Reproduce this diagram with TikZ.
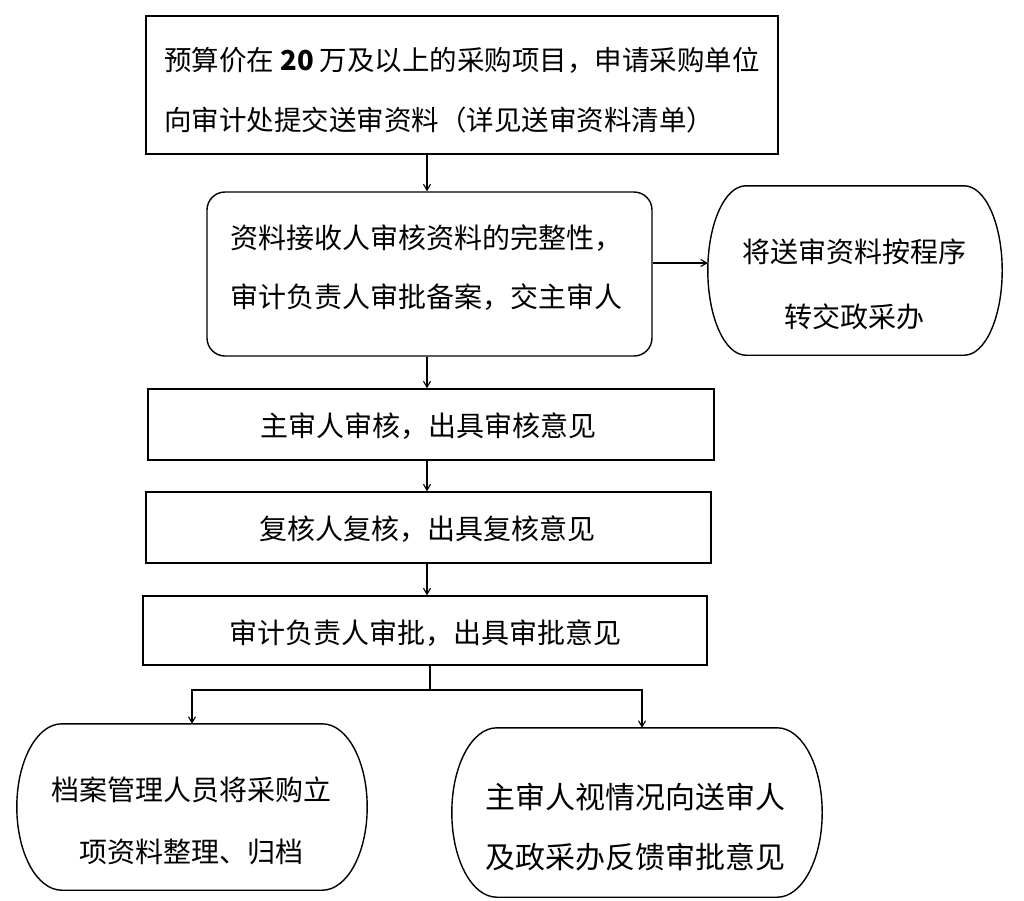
\documentclass[tikz,border=0pt]{standalone}
\usepackage{fontspec}
\setmainfont{Noto Sans CJK SC}
\usetikzlibrary{arrows.meta,calc}
\tikzset{
  box/.style={draw, line width=1.4pt, inner sep=0pt},
  rbox/.style={box, rounded corners=18pt},
  blank/.style={inner sep=0pt},
  txt/.style={inner sep=0pt, font=\fontsize{28}{60}\selectfont},
  arr/.style={line width=1.1pt, -{Straight Barb[length=6pt,width=7pt]}},
  plain/.style={line width=1.1pt},
}
\newcommand\bulgeoutline[3]{% node name, corner x-radius, control offset
  \draw[line width=1.4pt]
    ($(#1.north west)+(#2,0)$) -- ($(#1.north east)+(-#2,0)$)
    .. controls ($(#1.north east)+(-#3,0)$) and ($(#1.east)!0.552!(#1.north east)$) .. (#1.east)
    .. controls ($(#1.east)!0.552!(#1.south east)$) and ($(#1.south east)+(-#3,0)$) .. ($(#1.south east)+(-#2,0)$)
    -- ($(#1.south west)+(#2,0)$)
    .. controls ($(#1.south west)+(#3,0)$) and ($(#1.west)!0.552!(#1.south west)$) .. (#1.west)
    .. controls ($(#1.west)!0.552!(#1.north west)$) and ($(#1.north west)+(#3,0)$) .. ($(#1.north west)+(#2,0)$)
    -- cycle;
}
\begin{document}
\begin{tikzpicture}[x=1pt,y=-1pt]
\fill[white] (0,0) rectangle (1024,900);
\useasboundingbox (0,0) rectangle (1024,900);

% shapes
\node[box, minimum width=632pt, minimum height=138pt] (B1) at (462,85) {};
\node[rbox, minimum width=445pt, minimum height=164pt] (B2) at (429.5,274) {};
\node[blank, minimum width=294pt, minimum height=169pt] (B3) at (855,270.5) {};
\bulgeoutline{B3}{38pt}{17pt}
\node[box, minimum width=566pt, minimum height=71pt] (B4) at (431,424.5) {};
\node[box, minimum width=565pt, minimum height=71pt] (B5) at (428.5,527.5) {};
\node[box, minimum width=564pt, minimum height=69pt] (B6) at (425,630.5) {};
\node[blank, minimum width=350pt, minimum height=166pt] (L) at (192,807) {};
\bulgeoutline{L}{45pt}{20pt}
\node[blank, minimum width=370pt, minimum height=169pt] (R) at (637,812.5) {};
\bulgeoutline{R}{45pt}{20pt}

% texts
\node[txt, align=left, font=\fontsize{27.5}{60}\selectfont] (T1) at (462,90)
  {预算价在 {\bfseries 20} 万及以上的采购项目，申请采购单位\\向审计处提交送审资料（详见送审资料清单）};
\node[txt, align=left, font=\fontsize{28}{59}\selectfont] (T2) at (426,267.5)
  {资料接收人审核资料的完整性，\\审计负责人审批备案，交主审人};
\node[txt, align=center, font=\fontsize{28}{65}\selectfont] (T3) at (854,284.5)
  {将送审资料按程序\\转交政采办};
\node[txt] (T4) at (428,426) {主审人审核，出具审核意见};
\node[txt] (T5) at (427,529) {复核人复核，出具复核意见};
\node[txt] (T6) at (425,633) {审计负责人审批，出具审批意见};
\node[txt, align=center, font=\fontsize{28}{62}\selectfont] (TL) at (191,821)
  {档案管理人员将采购立\\项资料整理、归档};
\node[txt, align=left, font=\fontsize{30}{60}\selectfont] (TR) at (635,827)
  {主审人视情况向送审人\\及政采办反馈审批意见};

% connectors
\coordinate (spine) at (427,0);
\coordinate (J) at (430,690);
\draw[arr] (B1.south -| spine) -- (B2.north -| spine);
\draw[arr] ($(B2.east)+(0,-11)$) -- ($(B3.west |- B2.east)+(0,-11)$);
\draw[arr] (B2.south -| spine) -- (B4.north -| spine);
\draw[arr] (B4.south -| spine) -- (B5.north -| spine);
\draw[arr] (B5.south -| spine) -- (B6.north -| spine);
\draw[plain] (B6.south -| J) -- (J);
\draw[arr] (J) -| (L.north);
\draw[arr] (J) -| ($(R.north)+(5,0)$);
\end{tikzpicture}
\end{document}
